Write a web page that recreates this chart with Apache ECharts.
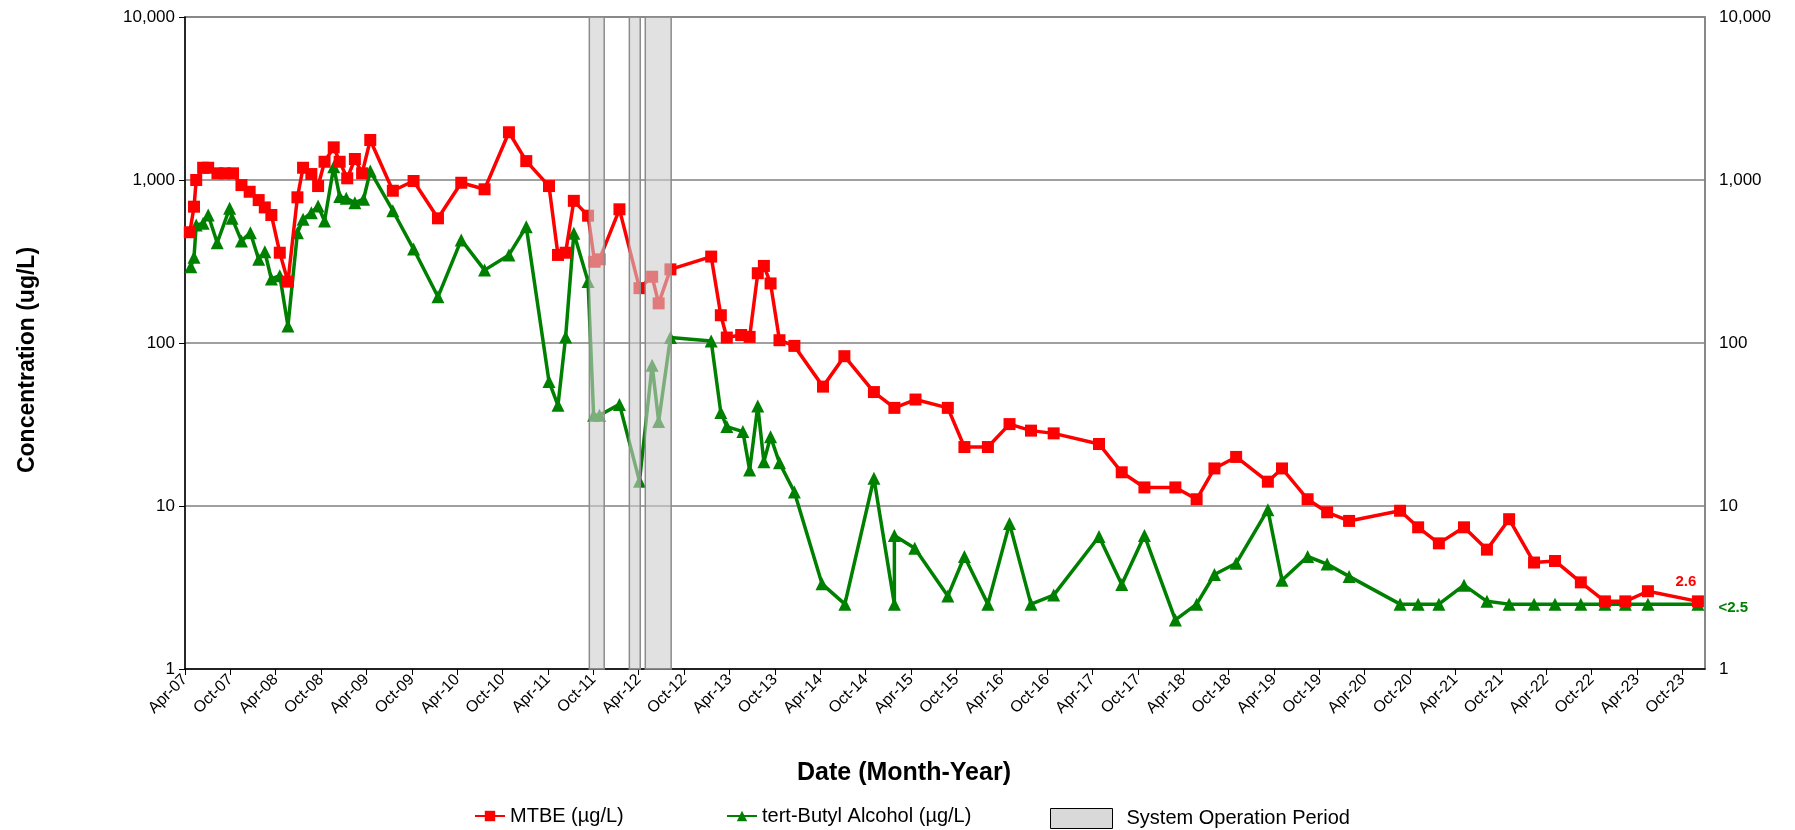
<!DOCTYPE html>
<html>
<head>
<meta charset="utf-8">
<title>MTBE / TBA concentrations</title>
<script src="https://cdn.jsdelivr.net/npm/echarts@6/dist/echarts.min.js"></script>
<style>
  html, body { margin: 0; padding: 0; background: #fff; }
  #J_Chart { width: 1795px; height: 830px; }
</style>
</head>
<body>
<div id="J_Chart"></div>
<script>
// sample dates / results
var mtbeDates = [
    '2007-04-20', '2007-05-07', '2007-05-16', '2007-06-13', '2007-07-03', '2007-08-10', '2007-09-09', '2007-10-12',
    '2007-11-15', '2007-12-18', '2008-01-24', '2008-02-17', '2008-03-14', '2008-04-17', '2008-05-20', '2008-06-27',
    '2008-07-20', '2008-08-23', '2008-09-19', '2008-10-15', '2008-11-21', '2008-12-15', '2009-01-15', '2009-02-14',
    '2009-03-14', '2009-04-16', '2009-07-16', '2009-10-08', '2010-01-15', '2010-04-17', '2010-07-20', '2010-10-27',
    '2011-01-05', '2011-04-05', '2011-05-11', '2011-06-11', '2011-07-14', '2011-09-10', '2011-10-06', '2011-10-26',
    '2012-01-15', '2012-04-04', '2012-05-25', '2012-06-20', '2012-08-07', '2013-01-19', '2013-02-25', '2013-03-21',
    '2013-05-18', '2013-06-21', '2013-07-24', '2013-08-18', '2013-09-14', '2013-10-20', '2013-12-19', '2014-04-12',
    '2014-07-07', '2014-11-04', '2015-01-26', '2015-04-19', '2015-08-28', '2015-11-03', '2016-02-06', '2016-05-02',
    '2016-07-28', '2016-10-28', '2017-04-27', '2017-07-28', '2017-10-28', '2018-02-28', '2018-05-25', '2018-08-05',
    '2018-11-01', '2019-03-07', '2019-05-03', '2019-08-15', '2019-11-02', '2020-01-30', '2020-08-22', '2020-11-03',
    '2021-01-26', '2021-05-05', '2021-08-06', '2021-11-04', '2022-02-12', '2022-05-06', '2022-08-19', '2022-11-24',
    '2023-02-14', '2023-05-15', '2023-12-03'
];
var mtbeValues = [
    478, 686, 1000, 1189, 1189, 1099, 1099, 1099,
    931, 847, 753, 679, 610, 358, 238, 783,
    1189, 1088, 918, 1294, 1586, 1294, 1024, 1345,
    1099, 1760, 859, 986, 582, 962, 877, 1963,
    1306, 918, 347, 358, 745, 604, 315, 326,
    661, 217, 255, 175, 283, 339, 148, 108,
    112, 109, 268, 297, 232, 104, 96, 54,
    83, 50, 40, 45, 40, 23, 23, 31.8,
    29, 27.9, 24, 16.1, 13, 13, 11, 17,
    20, 14.1, 17, 11, 9.15, 8.1, 9.35, 7.4,
    5.9, 7.4, 5.4, 8.3, 4.5, 4.6, 3.4, 2.6,
    2.6, 3.0, 2.6
];
var tbaDates = [
    '2007-04-24', '2007-05-07', '2007-05-16', '2007-06-13', '2007-07-03', '2007-08-09', '2007-09-28', '2007-10-08',
    '2007-11-15', '2007-12-21', '2008-01-24', '2008-02-17', '2008-03-14', '2008-04-17', '2008-05-20', '2008-06-27',
    '2008-07-20', '2008-08-23', '2008-09-19', '2008-10-15', '2008-11-21', '2008-12-15', '2009-01-11', '2009-02-14',
    '2009-03-20', '2009-04-16', '2009-07-16', '2009-10-08', '2010-01-15', '2010-04-17', '2010-07-20', '2010-10-27',
    '2011-01-05', '2011-04-05', '2011-05-11', '2011-06-11', '2011-07-14', '2011-09-10', '2011-10-02', '2011-10-26',
    '2012-01-15', '2012-04-04', '2012-05-25', '2012-06-20', '2012-08-07', '2013-01-19', '2013-02-25', '2013-03-21',
    '2013-05-25', '2013-06-21', '2013-07-24', '2013-08-18', '2013-09-14', '2013-10-20', '2013-12-19', '2014-04-08',
    '2014-07-09', '2014-11-04', '2015-01-26', '2015-01-26', '2015-04-16', '2015-08-28', '2015-11-03', '2016-02-06',
    '2016-05-02', '2016-07-28', '2016-10-28', '2017-04-27', '2017-07-28', '2017-10-28', '2018-02-28', '2018-05-25',
    '2018-08-05', '2018-11-01', '2019-03-07', '2019-05-03', '2019-08-15', '2019-11-02', '2020-01-30', '2020-08-22',
    '2020-11-03', '2021-01-26', '2021-05-05', '2021-08-06', '2021-11-04', '2022-02-12', '2022-05-06', '2022-08-19',
    '2022-11-24', '2023-02-14', '2023-05-15', '2023-12-03'
];
var tbaValues = [
    294, 336, 530, 542, 610, 412, 670, 582,
    423, 475, 326, 363, 247, 259, 127, 475,
    574, 630, 692, 560, 1207, 791, 772, 726,
    762, 1135, 648, 377, 192, 429, 280, 347,
    517, 58, 41.5, 109, 471, 238, 36, 36,
    42, 14.2, 73, 33, 108, 103, 37.4, 30.7,
    28.6, 16.6, 41, 18.7, 26.6, 18.4, 12.2, 3.33,
    2.5, 14.8, 2.5, 6.6, 5.5, 2.8, 4.9, 2.5,
    7.8, 2.5, 2.84, 6.5, 3.3, 6.6, 2.0, 2.5,
    3.8, 4.45, 9.5, 3.5, 4.9, 4.4, 3.7, 2.5,
    2.5, 2.5, 3.27, 2.6, 2.5, 2.5, 2.5, 2.5,
    2.5, 2.5, 2.5, 2.5
];
// system operation periods
var operationStart = ['2011-09-15', '2012-02-23', '2012-04-27'];
var operationEnd = ['2011-11-14', '2012-04-07', '2012-08-10'];

var xTickLabels = [];
for (var yr = 7; yr <= 23; yr++) {
    var yy = (yr < 10 ? '0' : '') + yr;
    xTickLabels.push('Apr-' + yy, 'Oct-' + yy);
}
var lastLabels = { mtbe: '2.6', tba: '<2.5' };

// x axis runs in months counted from 1 Apr 2007
function toMonths(s) {
    var p = s.split('-');
    var y = +p[0], m = +p[1], d = +p[2];
    var days = new Date(y, m, 0).getDate();
    return (y - 2007) * 12 + (m - 4) + (d - 1) / days;
}
function pairs(dates, vals) {
    var out = [];
    for (var i = 0; i < dates.length; i++) {
        out.push([toMonths(dates[i]), vals[i]]);
    }
    return out;
}

var tickVals = xTickLabels.map(function(t, i) { return i * 6; });
var font = 'Liberation Sans, Arial, sans-serif';

var mtbeData = pairs(mtbeDates, mtbeValues);
var tbaData = pairs(tbaDates, tbaValues);
// value labels on the last samples
mtbeData[mtbeData.length - 1] = {
    value: mtbeData[mtbeData.length - 1],
    label: { show: true, formatter: lastLabels.mtbe, position: 'top', distance: 6, offset: [-12, 0],
        color: '#ff0000', fontWeight: 'bold', fontSize: 15, fontFamily: font }
};
tbaData[tbaData.length - 1] = {
    value: tbaData[tbaData.length - 1],
    label: { show: true, formatter: lastLabels.tba, position: 'right', distance: 14, offset: [0, 4],
        color: '#008000', fontWeight: 'bold', fontSize: 15, fontFamily: font }
};

var bands = [];
for (var k = 0; k < operationStart.length; k++) {
    bands.push([{ xAxis: toMonths(operationStart[k]) }, { xAxis: toMonths(operationEnd[k]) }]);
}

function fmtLog(v) {
    return Math.round(v).toLocaleString('en-US');
}

var myChart = echarts.init(document.getElementById('J_Chart'));
var option = {
    backgroundColor: '#fff',
    animation: false,
    textStyle: { fontFamily: font, color: '#000' },
    grid: {
        left: 185, right: 90, top: 17, bottom: 161,
        show: true, borderColor: '#808080', borderWidth: 1.5, backgroundColor: 'transparent'
    },
    graphic: [{
        type: 'text',
        x: 904,
        y: 773,
        style: { text: 'Date (Month-Year)', font: 'bold 25px ' + font, fill: '#000', align: 'center', verticalAlign: 'middle' }
    }, {
        type: 'text',
        x: 28,
        y: 360,
        rotation: Math.PI / 2,
        style: { text: 'Concentration (ug/L)', font: 'bold 23px ' + font, fill: '#000', align: 'center', verticalAlign: 'middle' }
    }],
    legend: [{
        data: [{ name: 'MTBE (µg/L)' }],
        left: 469, top: 801, itemWidth: 30, itemHeight: 13,
        textStyle: { fontSize: 20, fontFamily: font, color: '#000' }
    }, {
        data: [{ name: 'tert-Butyl Alcohol (µg/L)' }],
        left: 721, top: 801, itemWidth: 30, itemHeight: 13,
        textStyle: { fontSize: 20, fontFamily: font, color: '#000' }
    }, {
        data: [{ name: 'System Operation Period', icon: 'rect' }],
        left: 1045, top: 803, itemWidth: 62, itemHeight: 20,
        itemStyle: { color: '#d9d9d9', borderColor: '#000', borderWidth: 1 },
        textStyle: { fontSize: 20, fontFamily: font, color: '#000', padding: [0, 0, 0, 9] }
    }],
    xAxis: {
        type: 'value',
        min: 0,
        max: 201,
        interval: 6,
        axisLine: { onZero: false, lineStyle: { color: '#000', width: 1.5 } },
        axisTick: { show: true, length: 6, customValues: tickVals, lineStyle: { color: '#000' } },
        axisLabel: {
            customValues: tickVals,
            rotate: 45,
            margin: 8,
            fontSize: 16,
            color: '#000',
            formatter: function(v) { return xTickLabels[Math.round(v / 6)] || ''; }
        },
        splitLine: { show: false }
    },
    yAxis: [{
        type: 'log',
        logBase: 10,
        min: 1,
        max: 10000,
        splitNumber: 4,
        axisLine: { show: true, lineStyle: { color: '#000', width: 1.5 } },
        axisTick: { show: true, length: 6, lineStyle: { color: '#000' } },
        axisLabel: { fontSize: 17, color: '#000', margin: 10, formatter: fmtLog },
        splitLine: { show: true, lineStyle: { color: '#808080', width: 1.5 } }
    }, {
        type: 'log',
        logBase: 10,
        min: 1,
        max: 10000,
        splitNumber: 4,
        position: 'right',
        axisLine: { show: true, lineStyle: { color: '#808080', width: 1.5 } },
        axisTick: { show: false },
        axisLabel: { fontSize: 17, color: '#000', margin: 14, formatter: fmtLog },
        splitLine: { show: false }
    }],
    series: [{
        name: 'MTBE (µg/L)',
        type: 'line',
        data: mtbeData,
        clip: false,
        symbol: 'rect',
        symbolSize: 12,
        itemStyle: { color: '#ff0000' },
        lineStyle: { color: '#ff0000', width: 3.5 },
        z: 3
    }, {
        name: 'tert-Butyl Alcohol (µg/L)',
        type: 'line',
        data: tbaData,
        clip: false,
        symbol: 'triangle',
        symbolSize: 13,
        itemStyle: { color: '#008000' },
        lineStyle: { color: '#008000', width: 3.5 },
        z: 2
    }, {
        name: 'System Operation Period',
        type: 'bar',
        data: [],
        itemStyle: { color: '#d9d9d9', borderColor: '#000', borderWidth: 1 },
        z: 10,
        markArea: {
            silent: true,
            z: 10,
            itemStyle: { color: 'rgba(205,205,205,0.6)', borderColor: '#8c8c8c', borderWidth: 1.5 },
            data: bands
        }
    }]
};
myChart.setOption(option);
</script>
</body>
</html>
